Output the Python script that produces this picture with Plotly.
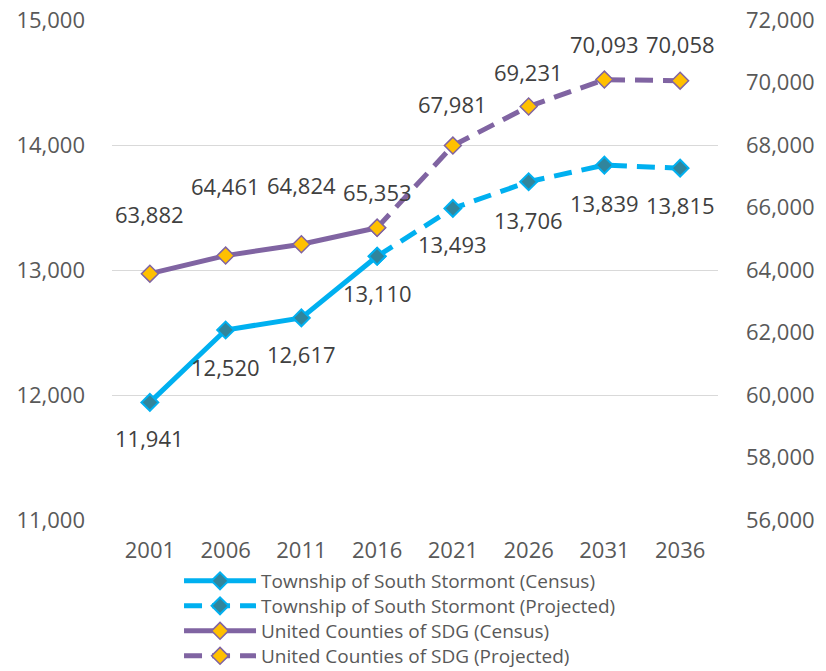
import plotly.graph_objects as go

years = ["2001", "2006", "2011", "2016", "2021", "2026", "2031", "2036"]
census_years = years[:4]
projected_years = years[3:]

stormont_census = [11941, 12520, 12617, 13110]
stormont_projected = [13110, 13493, 13706, 13839, 13815]
sdg_census = [63882, 64461, 64824, 65353]
sdg_projected = [65353, 67981, 69231, 70093, 70058]

stormont_all = stormont_census + stormont_projected[1:]
sdg_all = sdg_census + sdg_projected[1:]

# vertical label offsets in pixels (Excel moved a few SDG labels up by hand)
stormont_label_shift = [-36, -37, -36, -37, -36, -38, -38, -37]
sdg_label_shift = [60, 70, 59, 36, 42, 35, 36, 37]

FONT = "Open Sans"
CYAN = "#00B0F0"
TEAL = "#31859C"
PURPLE = "#8064A2"
GOLD = "#FFC000"

fig = go.Figure()
fig.add_trace(go.Scatter(
    x=census_years, y=stormont_census, name="Township of South Stormont (Census)",
    mode="lines+markers", line={"color": CYAN, "width": 5}, legend="legend",
    marker={"symbol": "diamond", "size": 13, "color": TEAL, "line": {"color": CYAN, "width": 2}},
))
fig.add_trace(go.Scatter(
    x=projected_years, y=stormont_projected, name="Township of South Stormont (Projected)",
    mode="lines+markers", line={"color": CYAN, "width": 5, "dash": "18px,10px"}, legend="legend2",
    marker={"symbol": "diamond", "size": 13, "color": TEAL, "line": {"color": CYAN, "width": 2}},
))
fig.add_trace(go.Scatter(
    x=census_years, y=sdg_census, name="United Counties of SDG (Census)", yaxis="y2",
    mode="lines+markers", line={"color": PURPLE, "width": 5}, legend="legend3",
    marker={"symbol": "diamond", "size": 13, "color": GOLD, "line": {"color": PURPLE, "width": 1.5}},
))
fig.add_trace(go.Scatter(
    x=projected_years, y=sdg_projected, name="United Counties of SDG (Projected)", yaxis="y2",
    mode="lines+markers", line={"color": PURPLE, "width": 5, "dash": "18px,10px"}, legend="legend4",
    marker={"symbol": "diamond", "size": 13, "color": GOLD, "line": {"color": PURPLE, "width": 1.5}},
))

label_font = {"family": FONT, "size": 22, "color": "#404040"}
for i, (value, shift) in enumerate(zip(stormont_all, stormont_label_shift)):
    fig.add_annotation(
        x=i, y=value, xref="x", yref="y", text=f"{value:,}", showarrow=False,
        yshift=shift, font=label_font,
    )
for i, (value, shift) in enumerate(zip(sdg_all, sdg_label_shift)):
    fig.add_annotation(
        x=i, y=value, xref="x", yref="y2", text=f"{value:,}", showarrow=False,
        yshift=shift, font=label_font,
    )


def legend_box(y):
    return {
        "x": 0.1106, "y": y, "xanchor": "left", "yanchor": "middle",
        "itemwidth": 72, "bgcolor": "rgba(0,0,0,0)",
        "font": {"family": FONT, "size": 19, "color": "#595959"},
    }


fig.update_layout(
    width=826,
    height=671,
    margin={"l": 112, "r": 108, "t": 20, "b": 151, "autoexpand": False},
    paper_bgcolor="white",
    plot_bgcolor="white",
    font={"family": FONT, "size": 22, "color": "#595959"},
    showlegend=True,
    legend=legend_box(-0.122),
    legend2=legend_box(-0.172),
    legend3=legend_box(-0.222),
    legend4=legend_box(-0.272),
    xaxis={
        "type": "category", "range": [-0.5, 7.5], "showgrid": False,
        "showline": False, "ticks": "", "ticklabelstandoff": 15,
    },
    yaxis={
        "range": [11000, 15000], "dtick": 1000, "tickformat": ",",
        "showgrid": True, "gridcolor": "#D9D9D9", "gridwidth": 1,
        "zeroline": False, "showline": False, "ticks": "", "ticklabelstandoff": 26,
        "ticklabeloverflow": "allow",
    },
    yaxis2={
        "range": [56000, 72000], "dtick": 2000, "tickformat": ",",
        "overlaying": "y", "side": "right", "showgrid": False,
        "zeroline": False, "showline": False, "ticks": "", "ticklabelstandoff": 27,
        "ticklabeloverflow": "allow",
    },
)

# drop the browser's default body margin so the figure sits at the page corner
fig.write_html(
    "out.html",
    config={"displayModeBar": False},
    post_script="document.body.style.margin = '0';",
)
